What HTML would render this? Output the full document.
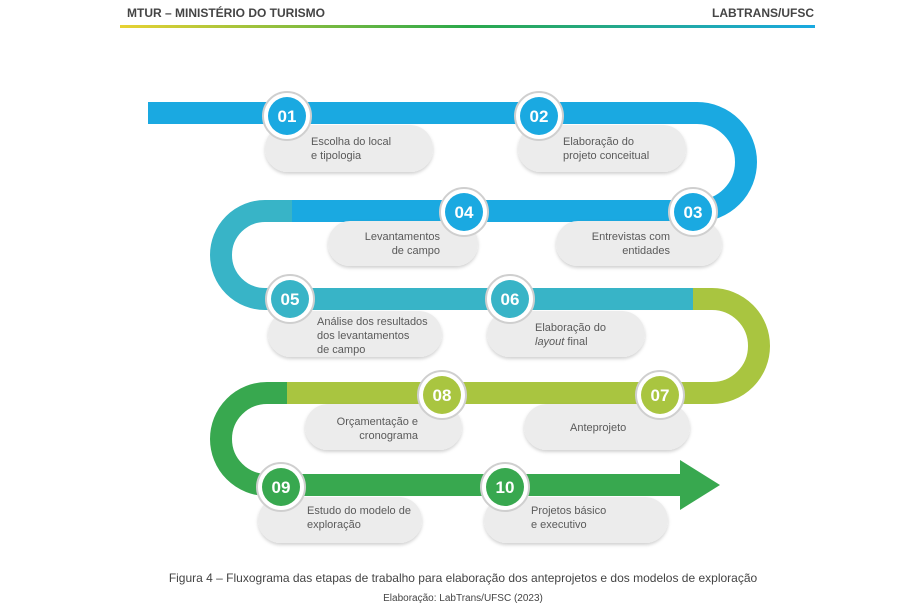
<!DOCTYPE html>
<html><head><meta charset="utf-8"><style>
html,body{margin:0;padding:0;background:#fff;}
svg{display:block;font-family:"Liberation Sans",sans-serif;}
</style></head><body>
<svg width="920" height="610" viewBox="0 0 920 610" xmlns="http://www.w3.org/2000/svg">
<defs>
<linearGradient id="g" x1="0" x2="1"><stop offset="0" stop-color="#e8d233"/><stop offset="0.5" stop-color="#2aa84a"/><stop offset="1" stop-color="#1aa9e1"/></linearGradient>
<filter id="sh" x="-10%" y="-20%" width="120%" height="150%"><feDropShadow dx="0" dy="2" stdDeviation="1.5" flood-color="#000" flood-opacity="0.18"/></filter>
</defs>
<text x="127" y="17" font-size="12" font-weight="bold" fill="#444">MTUR – MINISTÉRIO DO TURISMO</text>
<text x="814" y="17" font-size="12" font-weight="bold" fill="#444" text-anchor="end">LABTRANS/UFSC</text>
<rect x="120" y="25" width="695" height="3" fill="url(#g)"/>

<g fill="none" stroke-width="22">
<path d="M148 113 H697 A49 49 0 0 1 697 211 H290" stroke="#1aa9e1"/>
<path d="M292 211 H265 A44 44 0 0 0 265 299 H695" stroke="#38b4c7"/>
<path d="M693 299 H712 A47 47 0 0 1 712 393 H285" stroke="#a9c540"/>
<path d="M287 393 H267 A46 46 0 0 0 267 485 H685" stroke="#38a84f"/>
</g>
<polygon points="680,460 720,485 680,510" fill="#38a84f"/>

<g fill="#ececec" filter="url(#sh)">
<rect x="265" y="125" width="168" height="47" rx="23"/>
<rect x="518" y="125" width="168" height="47" rx="23"/>
<rect x="328" y="221" width="150" height="45" rx="22"/>
<rect x="556" y="221" width="166" height="45" rx="22"/>
<rect x="268" y="311" width="174" height="46" rx="23"/>
<rect x="487" y="311" width="158" height="46" rx="23"/>
<rect x="305" y="404" width="157" height="46" rx="23"/>
<rect x="524" y="404" width="166" height="46" rx="23"/>
<rect x="258" y="497" width="164" height="46" rx="23"/>
<rect x="484" y="497" width="184" height="46" rx="23"/>
</g>

<g font-size="11" fill="#5a5a5a">
<text x="311" y="145">Escolha do local</text><text x="311" y="159">e tipologia</text>
<text x="563" y="145">Elaboração do</text><text x="563" y="159">projeto conceitual</text>
<text x="440" y="240" text-anchor="end">Levantamentos</text><text x="440" y="254" text-anchor="end">de campo</text>
<text x="670" y="240" text-anchor="end">Entrevistas com</text><text x="670" y="254" text-anchor="end">entidades</text>
<text x="317" y="325">Análise dos resultados</text><text x="317" y="339">dos levantamentos</text><text x="317" y="353">de campo</text>
<text x="535" y="331">Elaboração do</text><text x="535" y="345"><tspan font-style="italic">layout</tspan> final</text>
<text x="418" y="425" text-anchor="end">Orçamentação e</text><text x="418" y="439" text-anchor="end">cronograma</text>
<text x="570" y="431">Anteprojeto</text>
<text x="307" y="514">Estudo do modelo de</text><text x="307" y="528">exploração</text>
<text x="531" y="514">Projetos básico</text><text x="531" y="528">e executivo</text>
</g>

<g font-size="17" font-weight="bold" fill="#fff" text-anchor="middle">
<circle cx="287" cy="116" r="24" fill="#fff" stroke="#cfcfcf" stroke-width="2"/><circle cx="287" cy="116" r="19" fill="#1aa9e1"/><text x="287" y="122">01</text>
<circle cx="539" cy="116" r="24" fill="#fff" stroke="#cfcfcf" stroke-width="2"/><circle cx="539" cy="116" r="19" fill="#1aa9e1"/><text x="539" y="122">02</text>
<circle cx="464" cy="212" r="24" fill="#fff" stroke="#cfcfcf" stroke-width="2"/><circle cx="464" cy="212" r="19" fill="#1aa9e1"/><text x="464" y="218">04</text>
<circle cx="693" cy="212" r="24" fill="#fff" stroke="#cfcfcf" stroke-width="2"/><circle cx="693" cy="212" r="19" fill="#1aa9e1"/><text x="693" y="218">03</text>
<circle cx="290" cy="299" r="24" fill="#fff" stroke="#cfcfcf" stroke-width="2"/><circle cx="290" cy="299" r="19" fill="#38b4c7"/><text x="290" y="305">05</text>
<circle cx="510" cy="299" r="24" fill="#fff" stroke="#cfcfcf" stroke-width="2"/><circle cx="510" cy="299" r="19" fill="#38b4c7"/><text x="510" y="305">06</text>
<circle cx="442" cy="395" r="24" fill="#fff" stroke="#cfcfcf" stroke-width="2"/><circle cx="442" cy="395" r="19" fill="#a9c540"/><text x="442" y="401">08</text>
<circle cx="660" cy="395" r="24" fill="#fff" stroke="#cfcfcf" stroke-width="2"/><circle cx="660" cy="395" r="19" fill="#a9c540"/><text x="660" y="401">07</text>
<circle cx="281" cy="487" r="24" fill="#fff" stroke="#cfcfcf" stroke-width="2"/><circle cx="281" cy="487" r="19" fill="#38a84f"/><text x="281" y="493">09</text>
<circle cx="505" cy="487" r="24" fill="#fff" stroke="#cfcfcf" stroke-width="2"/><circle cx="505" cy="487" r="19" fill="#38a84f"/><text x="505" y="493">10</text>
</g>

<text x="463" y="582" font-size="12" fill="#444" text-anchor="middle">Figura 4 – Fluxograma das etapas de trabalho para elaboração dos anteprojetos e dos modelos de exploração</text>
<text x="463" y="601" font-size="10" fill="#444" text-anchor="middle">Elaboração: LabTrans/UFSC (2023)</text>
</svg>
</body></html>
